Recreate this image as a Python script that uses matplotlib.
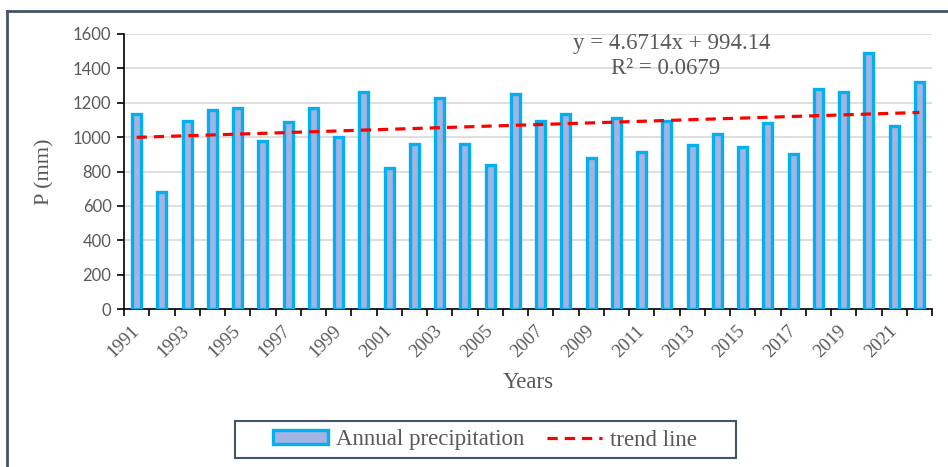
import matplotlib
matplotlib.use("Agg")
import matplotlib.pyplot as plt
import numpy as np
from matplotlib.patches import Rectangle
from matplotlib.lines import Line2D

years = list(range(1991, 2023))
precip = [1135, 680, 1095, 1155, 1170, 980, 1090, 1170, 1000, 1260,
          820, 960, 1225, 960, 840, 1250, 1095, 1135, 880, 1110,
          915, 1095, 955, 1020, 940, 1085, 900, 1280, 1260, 1490,
          1065, 1320]
trend_slope = 4.6714
trend_intercept = 994.14
eq_text = "y = 4.6714x + 994.14"
r2_text = "R² = 0.0679"
yticks = [0, 200, 400, 600, 800, 1000, 1200, 1400, 1600]
xlabels = [str(y) if (y - 1991) % 2 == 0 else "" for y in years]

serif = ["Liberation Serif", "DejaVu Serif"]
gray = "#595959"

fig = plt.figure(figsize=(9.48, 4.67), dpi=100)
ax = fig.add_axes([124/948, 1-309/467, (932-124)/948, (309-34)/467])

x = np.arange(len(years))
ax.bar(x, precip, width=0.36, color="#A3B3E2", edgecolor="#00B0F0",
       linewidth=2.4, zorder=3)

xt = np.arange(1, len(years) + 1)
trend = trend_slope * xt + trend_intercept
ax.plot(x, trend, color="#FF0000", linestyle=(0, (3.2, 2.2)), linewidth=2.3, zorder=4)

ax.set_xlim(-0.5, len(years) - 0.5)
ax.set_ylim(0, 1600)
ax.set_yticks(yticks)
ax.set_yticklabels([str(v) for v in yticks], fontfamily="Lato", fontsize=12, color=gray)
ax.yaxis.grid(True, color="#D9D9D9", linewidth=1.2, zorder=0)
ax.set_axisbelow(True)

ax.set_xticks(x)
ax.set_xticklabels(xlabels, rotation=45, ha="right", va="center", rotation_mode="anchor",
                   fontfamily=serif, fontsize=13.5, color=gray)
ax.tick_params(axis="x", which="major", length=0, pad=14)
ax.set_xticks(np.arange(-0.5, len(years), 1.0), minor=True)
ax.tick_params(axis="x", which="minor", length=5, width=1.2, color="black", direction="out")
ax.tick_params(axis="y", length=5, width=1.2, color="black", direction="out", pad=4)

for s in ["top", "right"]:
    ax.spines[s].set_visible(False)
for s in ["left", "bottom"]:
    ax.spines[s].set_linewidth(1.2)
    ax.spines[s].set_color("black")

ax.set_ylabel("P (mm)", fontfamily=serif, fontsize=16, color=gray, labelpad=13)
fig.text(528/948, 1-382/467, "Years", fontfamily=serif, fontsize=16.5, color=gray,
         ha="center", va="center")

fig.text(672/948, 1-43/467, eq_text, fontfamily=serif, fontsize=16.5, color=gray,
         ha="center", va="center")
fig.text(666/948, 1-68/467, r2_text, fontfamily=serif, fontsize=16.5, color=gray,
         ha="center", va="center")

bar_handle = Rectangle((0, 0), 1, 1, facecolor="#A3B3E2", edgecolor="#00B0F0", linewidth=2.4)
line_handle = Line2D([0], [0], color="#FF0000", linestyle=(0, (3.2, 2.2)), linewidth=2.3)
leg = fig.legend([bar_handle, line_handle], ["Annual precipitation", "trend line"],
                 loc="center", bbox_to_anchor=(485/948, 1-440/467), ncol=2,
                 prop={"family": serif, "size": 16.5}, frameon=False,
                 handlelength=2.4, handleheight=0.55, columnspacing=1.0,
                 borderpad=0.3, handletextpad=0.35, borderaxespad=0)
for t in leg.get_texts():
    t.set_color(gray)

# legend box
fig.add_artist(Rectangle((235/948, 1-458/467), (736-235)/948, (458-421)/467,
                         transform=fig.transFigure, facecolor="none",
                         edgecolor="#44546A", linewidth=1.5))

# outer frame (left and top visible)
fig.add_artist(Line2D([7/948, 7/948], [0, 1-11/467], transform=fig.transFigure,
                      color="#44546A", linewidth=2))
fig.add_artist(Line2D([7/948, 1], [1-11/467, 1-11/467], transform=fig.transFigure,
                      color="#44546A", linewidth=2))

fig.savefig("out.png", dpi=100)
